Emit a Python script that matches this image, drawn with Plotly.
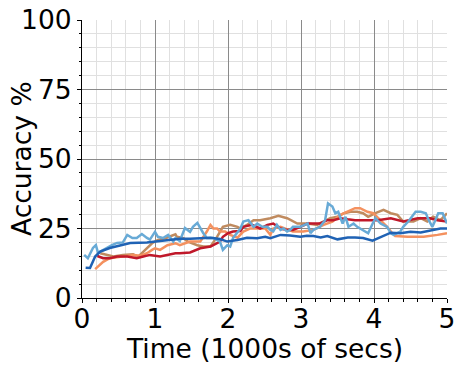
import plotly.graph_objects as go

# Dados (x em 1000s de segundos, y em %)
dark_x = [0.05, 0.11, 0.18, 0.25, 0.38, 0.52, 0.66, 0.89, 1.07, 1.21, 1.34, 1.48, 1.62,
          1.76, 1.89, 1.99, 2.13, 2.26, 2.40, 2.51, 2.58, 2.72, 2.85, 2.99, 3.08, 3.17,
          3.27, 3.36, 3.50, 3.64, 3.74, 3.85, 3.98, 4.09, 4.23, 4.36, 4.50, 4.64, 4.77,
          4.91, 5.0]
dark_y = [10.9, 10.8, 14.9, 16.7, 18.0, 19.0, 19.8, 20.0, 20.6, 20.9, 21.3, 21.3, 21.5,
          21.7, 21.2, 20.3, 20.9, 21.7, 21.5, 22.0, 21.5, 22.7, 22.5, 22.0, 22.4, 22.3,
          21.8, 22.3, 21.1, 21.8, 21.8, 21.6, 20.6, 22.0, 23.5, 23.3, 23.8, 23.6, 24.2,
          25.0, 25.0]

light_x = [0.03, 0.08, 0.15, 0.19, 0.22, 0.29, 0.41, 0.48, 0.56, 0.62, 0.69, 0.75, 0.82,
           0.89, 0.93, 1.00, 1.04, 1.11, 1.18, 1.25, 1.28, 1.34, 1.41, 1.48, 1.52, 1.58,
           1.62, 1.66, 1.71, 1.80, 1.89, 1.93, 1.99, 2.03, 2.07, 2.13, 2.17, 2.21, 2.28,
           2.35, 2.40, 2.47, 2.54, 2.58, 2.62, 2.67, 2.72, 2.76, 2.81, 2.85, 2.89, 2.99,
           3.09, 3.13, 3.17, 3.26, 3.33, 3.37, 3.43, 3.47, 3.51, 3.57, 3.61, 3.65, 3.72,
           3.77, 3.85, 3.92, 3.98, 4.02, 4.09, 4.18, 4.23, 4.27, 4.36, 4.40, 4.47, 4.57,
           4.64, 4.71, 4.75, 4.80, 4.84, 4.88, 4.94, 4.98, 5.0]
light_y = [15.5, 14.3, 18.0, 19.0, 16.2, 17.3, 19.0, 19.8, 20.0, 22.7, 21.6, 21.6, 23.0,
           21.6, 21.0, 23.8, 22.0, 21.6, 22.7, 20.3, 21.6, 20.5, 25.2, 23.8, 25.6, 27.0,
           25.0, 23.4, 21.6, 21.6, 20.3, 17.3, 19.0, 18.5, 21.6, 23.8, 25.0, 27.5, 28.0,
           25.6, 26.8, 25.6, 25.6, 24.5, 24.0, 26.3, 24.5, 25.0, 23.9, 24.5, 25.6, 25.6,
           26.8, 23.3, 24.5, 25.6, 28.0, 34.0, 32.9, 30.5, 31.0, 26.8, 29.2, 25.6, 26.8,
           25.6, 24.5, 23.3, 26.7, 28.7, 26.8, 25.6, 23.3, 22.7, 23.9, 25.6, 27.5, 31.0,
           31.0, 30.5, 28.0, 25.6, 28.0, 30.5, 30.5, 28.0, 26.8]

red_x = [0.21, 0.29, 0.38, 0.48, 0.62, 0.75, 0.84, 0.93, 1.07, 1.17, 1.28, 1.34, 1.48,
         1.62, 1.76, 1.85, 1.89, 1.93, 2.00, 2.07, 2.17, 2.21, 2.33, 2.44, 2.54, 2.62,
         2.72, 2.81, 2.89, 2.99, 3.09, 3.26, 3.36, 3.44, 3.54, 3.64, 3.74, 3.85, 4.05,
         4.23, 4.40, 4.60, 4.77, 4.87, 5.0]
red_y = [15.1, 14.3, 14.3, 14.9, 14.9, 14.3, 14.9, 15.5, 14.9, 15.5, 16.1, 16.1, 16.4,
         17.9, 18.5, 19.7, 20.3, 22.0, 23.3, 23.9, 24.1, 25.6, 26.3, 25.0, 26.3, 26.8,
         25.0, 24.5, 24.5, 25.6, 26.8, 26.8, 28.0, 28.0, 28.7, 28.3, 28.0, 28.0, 28.0,
         28.7, 27.5, 28.7, 28.7, 28.0, 27.5]

tan_x = [0.25, 0.34, 0.43, 0.56, 0.70, 0.77, 0.86, 0.96, 1.04, 1.14, 1.28, 1.30, 1.39,
         1.45, 1.58, 1.66, 1.76, 1.85, 1.93, 2.03, 2.13, 2.17, 2.26, 2.35, 2.44, 2.58,
         2.69, 2.81, 2.95, 3.09, 3.22, 3.31, 3.40, 3.50, 3.59, 3.68, 3.77, 3.85, 3.92,
         4.02, 4.13, 4.23, 4.32, 4.40, 4.54, 4.64, 4.73, 4.81, 4.91, 4.98, 5.0]
tan_y = [16.1, 15.5, 14.9, 15.5, 15.7, 14.9, 17.3, 19.7, 20.9, 21.5, 22.9, 22.0, 21.5,
         20.3, 19.0, 18.5, 18.5, 22.0, 25.6, 26.3, 25.6, 25.0, 26.3, 28.0, 28.0, 28.7,
         29.6, 28.7, 26.8, 26.8, 26.3, 27.5, 28.7, 29.2, 30.5, 31.0, 31.0, 30.5, 29.2,
         30.5, 31.7, 30.5, 29.9, 27.5, 27.5, 28.7, 27.5, 29.2, 28.0, 29.9, 30.5]

salmon_x = [0.18, 0.29, 0.38, 0.52, 0.70, 0.80, 0.89, 0.96, 1.00, 1.07, 1.17, 1.28, 1.34,
            1.48, 1.62, 1.71, 1.76, 1.80, 1.85, 1.89, 1.96, 2.03, 2.13, 2.21, 2.30, 2.40,
            2.51, 2.58, 2.62, 2.72, 2.89, 3.03, 3.17, 3.31, 3.43, 3.54, 3.64, 3.74, 3.81,
            3.91, 3.99, 4.09, 4.18, 4.25, 4.29, 4.46, 4.68, 4.87, 5.0]
salmon_y = [10.4, 13.0, 14.3, 14.9, 15.5, 15.2, 16.1, 17.3, 17.9, 17.3, 19.0, 19.7, 19.0,
            20.3, 20.3, 23.9, 26.3, 25.0, 25.0, 23.9, 23.9, 22.7, 21.7, 23.9, 25.0, 25.0,
            25.0, 22.7, 25.0, 25.6, 23.9, 23.9, 24.5, 26.3, 27.5, 29.9, 31.0, 32.3, 32.3,
            31.0, 30.5, 28.0, 25.6, 23.3, 22.3, 22.0, 22.0, 22.7, 23.3]

series = [
    (tan_x, tan_y, "#c08b5f"),
    (salmon_x, salmon_y, "#f4915f"),
    (red_x, red_y, "#c0182a"),
    (light_x, light_y, "#68aad6"),
    (dark_x, dark_y, "#1f62b4"),
]

FS = 26.5

fig = go.Figure()
for xs, ys, color in series:
    fig.add_trace(go.Scatter(x=xs, y=ys, mode="lines",
                             line=dict(color=color, width=2.5),
                             showlegend=False))

axis_common = dict(
    showline=True, linecolor="black", linewidth=1,
    ticks="outside", ticklen=4, tickcolor="black", tickwidth=1,
    gridcolor="#8a8a8a", gridwidth=1,
    zeroline=False, mirror=False, automargin=False,
    ticklabeloverflow="allow",
    tickfont=dict(size=FS, color="black"),
)

fig.update_xaxes(
    range=[0, 5], dtick=1, tick0=0, ticklabelstandoff=-7,
    minor=dict(dtick=0.2, showgrid=True, gridcolor="#e0e0e0", gridwidth=1,
               ticks="outside", ticklen=2.5, tickcolor="black"),
    **axis_common,
)
fig.update_yaxes(
    range=[0, 100], dtick=25, tick0=0,
    minor=dict(dtick=5, showgrid=True, gridcolor="#e0e0e0", gridwidth=1,
               ticks="outside", ticklen=2.5, tickcolor="black"),
    **axis_common,
)

# títulos dos eixos como anotações (margens fixas, sem automargin)
fig.add_annotation(text="Time (1000s of secs)", xref="paper", yref="paper",
                   x=0.5, y=0, yshift=-50, xanchor="center", yanchor="middle",
                   showarrow=False, font=dict(size=FS, color="black"))
fig.add_annotation(text="Accuracy %", xref="paper", yref="paper",
                   x=0, y=0.5, xshift=-61, xanchor="center", yanchor="middle",
                   textangle=-90, showarrow=False, font=dict(size=FS, color="black"))

# a página tem 8 px de margem no body: margens compensadas
fig.update_layout(
    width=465, height=369,
    margin=dict(l=74, r=26, t=12, b=79),
    paper_bgcolor="white", plot_bgcolor="white",
    font=dict(family="DejaVu Sans", size=FS, color="black"),
)

fig.write_html("out.html")
